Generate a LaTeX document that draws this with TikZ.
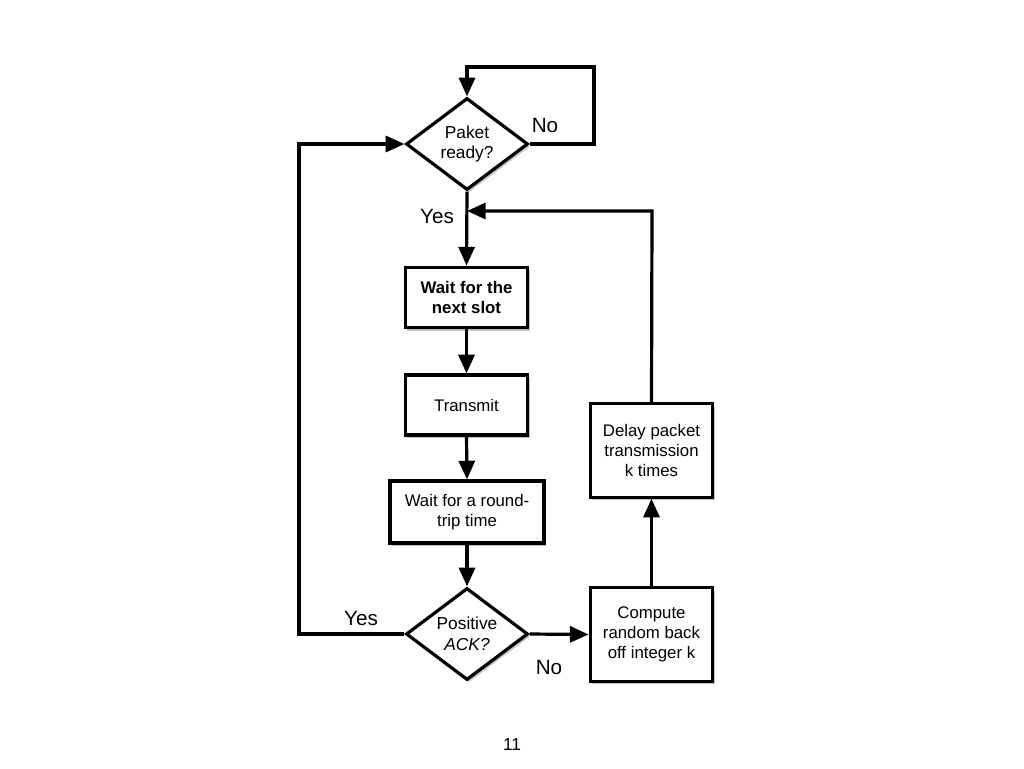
\documentclass[tikz,border=0pt]{standalone}
\usepackage{fontspec}
\setmainfont{Liberation Sans}
\usetikzlibrary{shapes.geometric,arrows.meta,shadows}
\begin{document}
\begin{tikzpicture}[x=0.75pt,y=-0.75pt,
  shd/.style={drop shadow={shadow xshift=1.5pt,shadow yshift=-2pt,opacity=0.35,fill=black!70}},
  boxnode/.style={draw,line width=2.4pt,fill=white,shd,align=center,font=\fontsize{12.6}{15}\selectfont,inner sep=0pt},
  decide/.style={draw,line width=2.4pt,fill=white,shd,diamond,aspect=1.33,align=center,font=\fontsize{13}{15.5}\selectfont,inner sep=0pt,minimum width=91.5pt,minimum height=69pt},
  conn/.style={line width=2.4pt,line join=miter},
  arr/.style={conn,-{Triangle[length=14pt,width=12pt]}},
  lbl/.style={font=\fontsize{15.5}{17}\selectfont}]
\useasboundingbox (0,0) rectangle (1024,768);
\fill[white] (0,0) rectangle (1024,768);

\node[decide] (d1) at (467,144) {Paket\\ready?};
\node[boxnode,minimum width=92pt,minimum height=45.5pt] (b1) at (466.5,297.5) {\bfseries Wait for the\\\bfseries next slot};
\node[boxnode,minimum width=92pt,minimum height=45pt] (b2) at (466.5,405) {Transmit};
\node[boxnode,minimum width=115.5pt,minimum height=46.5pt] (b3) at (467,512) {Wait for a round-\\trip time};
\node[decide] (d2) at (467,634) {Positive\\\itshape ACK?};
\node[boxnode,minimum width=92pt,minimum height=70pt] (b4) at (651.5,634.5) {Compute\\random back\\off integer k};
\node[boxnode,minimum width=92pt,minimum height=70pt] (b5) at (651.5,450.5) {Delay packet\\transmission\\k times};

\coordinate (c1) at (594,144);
\coordinate (c2) at (594,67);
\coordinate (c3) at (467,67);
\coordinate (c4) at (299,634);
\coordinate (c5) at (299,144);
\coordinate (c6) at (652,211);
\coordinate (c7) at (467,211);

\draw[arr] (d1.east) -- (c1) -- (c2) -- (c3) -- (d1.north);
\draw[arr] (d2.west) -- (c4) -- (c5) -- (d1.west);
\draw[arr] (d1.south) -- (b1.north);
\draw[arr] (b1.south) -- (b2.north);
\draw[arr] (b2.south) -- (b3.north);
\draw[arr] (b3.south) -- (d2.north);
\draw[arr] (d2.east) -- (b4.west);
\draw[arr] (b4.north) -- (b5.south);
\draw[arr] (b5.north) -- (c6) -- (c7);

\node[lbl] (l1) at (545,125) {No};
\node[lbl] (l2) at (437,216) {Yes};
\node[lbl] (l3) at (361,618) {Yes};
\node[lbl] (l4) at (549,667) {No};
\node[font=\fontsize{13}{15}\selectfont] (pg) at (512,745) {11};
\end{tikzpicture}
\end{document}
